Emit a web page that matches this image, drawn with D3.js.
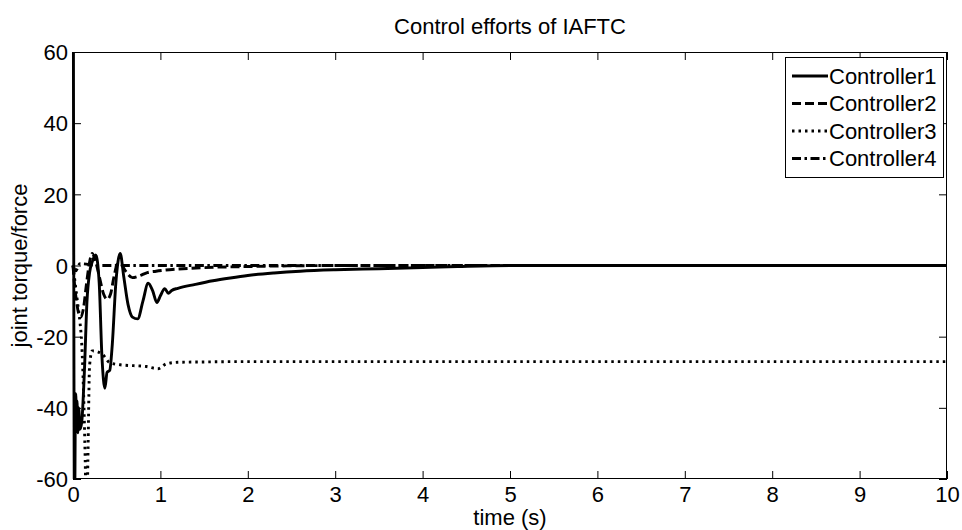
<!DOCTYPE html>
<html>
<head>
<meta charset="utf-8">
<script src="https://cdn.jsdelivr.net/npm/d3@7"></script>
<style>
  html, body { margin: 0; padding: 0; background: #fff; }
  svg { display: block; }
  text { font-family: "Liberation Sans", Arial, sans-serif; fill: #000; }
</style>
</head>
<body>
<svg id="chart" width="962" height="530"></svg>
<script>
// ---------------- data ----------------
const chartTitle = "Control efforts of IAFTC";
const xLabel = "time (s)";
const yLabel = "joint torque/force";
const seriesNames = ["Controller1", "Controller2", "Controller3", "Controller4"];
const xTicks = [0, 1, 2, 3, 4, 5, 6, 7, 8, 9, 10];
const yTicks = [-60, -40, -20, 0, 20, 40, 60];

const c1Time  = [0, 0.018, 0.026, 0.032, 0.038, 0.046, 0.055, 0.065, 0.08, 0.1, 0.13, 0.16, 0.19, 0.22, 0.26, 0.3, 0.33, 0.365, 0.39, 0.42, 0.45, 0.49, 0.54, 0.58, 0.63, 0.68, 0.74, 0.8, 0.86, 0.91, 0.96, 1.0, 1.05, 1.09, 1.13, 1.2, 1.4, 1.6, 1.8, 2.0, 2.3, 2.6, 3.0, 3.5, 4.0, 4.4, 5.0, 10];
const c1Value = [150, -75, -42, -36, -45, -38, -47, -40, -46, -44, -30, -10, -2, 1, 3, -5, -25, -34.5, -30, -29.5, -22, -5, 3.4, -3, -11, -14.5, -15, -10, -5, -7, -10.4, -8.5, -6.5, -7.8, -7, -6.4, -5.3, -4.3, -3.5, -2.8, -2.1, -1.6, -1.2, -0.9, -0.6, -0.3, 0, 0];

const c2Time  = [0, 0.02, 0.04, 0.06, 0.09, 0.12, 0.15, 0.19, 0.22, 0.26, 0.3, 0.35, 0.39, 0.43, 0.47, 0.51, 0.55, 0.6, 0.68, 0.75, 0.85, 0.95, 1.05, 1.2, 1.5, 2.0, 2.5, 3.0, 10];
const c2Value = [0, -6, -10, -13, -14.5, -12, -6, 1, 3.4, 1, -3, -8, -9.5, -8, -3, 0.5, 0.3, -1.5, -3.4, -3.0, -2.0, -1.6, -1.3, -1.0, -0.6, -0.3, -0.1, 0, 0];

const c3Time  = [0, 0.02, 0.05, 0.08, 0.1, 0.12, 0.14, 0.155, 0.17, 0.19, 0.22, 0.33, 0.42, 0.54, 0.84, 0.97, 1.07, 1.2, 1.5, 2.0, 10];
const c3Value = [0, -4, -10, -16, -22, -35, -55, -75, -55, -28, -24, -24.8, -27.3, -27.9, -28.4, -29, -27.6, -27.2, -27.1, -27, -27];

const c4Time  = [0, 0.03, 0.08, 0.3, 10];
const c4Value = [0, -1.5, 0.5, 0, 0];

// ---------------- layout ----------------
const W = 962, H = 530;
const plot = { left: 73, right: 947, top: 52, bottom: 479 };
const FONT = 22;

const svg = d3.select("#chart");
const x = d3.scaleLinear().domain([0, 10]).range([plot.left, plot.right]);
const y = d3.scaleLinear().domain([-60, 60]).range([plot.bottom, plot.top]);

const styles = [
  { dash: null },
  { dash: "9,4" },
  { dash: "2.5,4" },
  { dash: "9,3.5,2.5,3.5" }
];
const strokeW = 2.9;

const series = [
  c1Time.map((t, i) => ({ t, v: c1Value[i] })),
  c2Time.map((t, i) => ({ t, v: c2Value[i] })),
  c3Time.map((t, i) => ({ t, v: c3Value[i] })),
  c4Time.map((t, i) => ({ t, v: c4Value[i] }))
];

// clip
svg.append("defs").append("clipPath").attr("id", "clip")
  .append("rect")
  .attr("x", plot.left - 3).attr("y", plot.top)
  .attr("width", plot.right - plot.left + 3).attr("height", plot.bottom - plot.top);

// background
svg.append("rect").attr("x", 0).attr("y", 0).attr("width", W).attr("height", H).attr("fill", "#fff");

// lines
const line = d3.line().x(d => x(d.t)).y(d => y(d.v)).curve(d3.curveMonotoneX);
const gLines = svg.append("g").attr("clip-path", "url(#clip)");
series.forEach((s, i) => {
  gLines.append("path")
    .datum(s)
    .attr("d", line)
    .attr("fill", "none")
    .attr("stroke", "#000")
    .attr("stroke-width", strokeW)
    .attr("stroke-linejoin", "round")
    .attr("stroke-dasharray", styles[i].dash);
});

// axes (ticks inward, box)
const tickLen = 8;
const fmt = d => String(d);
const axB = svg.append("g").attr("transform", `translate(0,${plot.bottom})`)
  .call(d3.axisBottom(x).tickValues(xTicks).tickSize(-tickLen).tickFormat(fmt));
const axT = svg.append("g").attr("transform", `translate(0,${plot.top})`)
  .call(d3.axisTop(x).tickValues(xTicks).tickSize(-tickLen).tickFormat(""));
const axL = svg.append("g").attr("transform", `translate(${plot.left},0)`)
  .call(d3.axisLeft(y).tickValues(yTicks).tickSize(-tickLen).tickFormat(fmt));
const axR = svg.append("g").attr("transform", `translate(${plot.right},0)`)
  .call(d3.axisRight(y).tickValues(yTicks).tickSize(-tickLen).tickFormat(""));

[axB, axT, axL, axR].forEach(a => {
  a.select(".domain").remove();
  a.selectAll("line").attr("stroke", "#000").attr("stroke-width", 1);
  a.selectAll("text").attr("font-size", FONT).attr("font-family", '"Liberation Sans", Arial, sans-serif').attr("fill", "#000");
});
axB.selectAll("text").attr("dy", null).attr("y", 23);
axL.selectAll("text").attr("dy", "0.35em").attr("x", -5);

// box
svg.append("rect")
  .attr("x", plot.left + 0.5).attr("y", plot.top + 0.5)
  .attr("width", plot.right - plot.left - 1).attr("height", plot.bottom - plot.top - 1)
  .attr("fill", "none").attr("stroke", "#000").attr("stroke-width", 1);

// title and labels
svg.append("text").attr("x", (plot.left + plot.right) / 2).attr("y", 34)
  .attr("text-anchor", "middle").attr("font-size", FONT).text(chartTitle);
svg.append("text").attr("x", (plot.left + plot.right) / 2).attr("y", 525)
  .attr("text-anchor", "middle").attr("font-size", FONT).text(xLabel);
svg.append("text").attr("transform", `translate(27,${(plot.top + plot.bottom) / 2}) rotate(-90)`)
  .attr("text-anchor", "middle").attr("font-size", FONT).text(yLabel);

// legend
const lg = { x: 785, y: 57, w: 158, h: 120 };
const legend = svg.append("g");
legend.append("rect").attr("x", lg.x + 0.5).attr("y", lg.y + 0.5).attr("width", lg.w).attr("height", lg.h)
  .attr("fill", "#fff").attr("stroke", "#000").attr("stroke-width", 1);
const rowY = [76, 103.5, 131, 158.5];
seriesNames.forEach((name, i) => {
  legend.append("line")
    .attr("x1", lg.x + 7).attr("x2", lg.x + 43)
    .attr("y1", rowY[i]).attr("y2", rowY[i])
    .attr("stroke", "#000").attr("stroke-width", strokeW)
    .attr("stroke-dasharray", styles[i].dash);
  legend.append("text").attr("x", lg.x + 44).attr("y", rowY[i]).attr("dy", "0.35em")
    .attr("font-size", FONT).text(name);
});
</script>
</body>
</html>
